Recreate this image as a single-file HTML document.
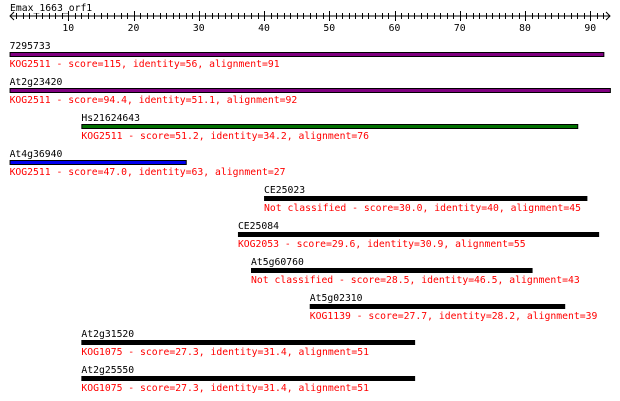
<!DOCTYPE html>
<html><head><meta charset="utf-8"><style>
body{margin:0;background:#fff}
svg{display:block}
text{font-family:"DejaVu Sans Mono","Liberation Mono",monospace;font-size:9.75px}
</style></head><body>
<svg id="c" width="620" height="401" xmlns="http://www.w3.org/2000/svg">
<text x="10" y="11" fill="#000">Emax_1663_orf1</text>
<g id="axis"></g>
<g id="rows"></g>
</svg>
<script>
const names=["7295733","At2g23420","Hs21624643","At4g36940","CE25023","CE25084","At5g60760","At5g02310","At2g31520","At2g25550"];
const starts=[1,1,12,1,40,36,38,47,12,12];
const ends=[92,93,88,28,89.4,91.2,81,86,63,63];
const descs=["KOG2511 - score=115, identity=56, alignment=91","KOG2511 - score=94.4, identity=51.1, alignment=92","KOG2511 - score=51.2, identity=34.2, alignment=76","KOG2511 - score=47.0, identity=63, alignment=27","Not classified - score=30.0, identity=40, alignment=45","KOG2053 - score=29.6, identity=30.9, alignment=55","Not classified - score=28.5, identity=46.5, alignment=43","KOG1139 - score=27.7, identity=28.2, alignment=39","KOG1075 - score=27.3, identity=31.4, alignment=51","KOG1075 - score=27.3, identity=31.4, alignment=51"];
const colors=["#800080","#800080","#007000","#0000ee","#000","#000","#000","#000","#000","#000"];
const tickLabels=[10,20,30,40,50,60,70,80,90];
const NS="http://www.w3.org/2000/svg";
function x(v){return 68.3+(v-10)*6.525;}
function mk(t,a,p){const e=document.createElementNS(NS,t);for(const k in a)e.setAttribute(k,a[k]);p.appendChild(e);return e;}
const ax=document.getElementById('axis');
const ay=16;
mk('line',{x1:10,y1:ay,x2:610,y2:ay,stroke:'#000'},ax);
mk('polyline',{points:`14,${ay-4} 10,${ay} 14,${ay+4}`,fill:'none',stroke:'#000'},ax);
mk('polyline',{points:`606,${ay-4} 610,${ay} 606,${ay+4}`,fill:'none',stroke:'#000'},ax);
for(let v=2;v<=92;v++){const big=v%10===0;const l=mk('line',{x1:Math.round(x(v))+0.5,x2:Math.round(x(v))+0.5,y1:big?ay-5:ay-3,y2:big?ay+5:ay+3,stroke:'#000'},ax);

}
tickLabels.forEach(v=>{const t=mk('text',{x:x(v),y:31,'text-anchor':'middle',fill:'#000'},ax);t.textContent=v;

});
const rows=document.getElementById('rows');
names.forEach((n,i)=>{const top=52+i*36;const g=mk('g',{},rows);


const t=mk('text',{x:x(starts[i]),y:top-3,fill:'#000'},g);t.textContent=n;


const r=mk('rect',{x:x(starts[i])+0.5,y:top+0.5,width:x(ends[i])-x(starts[i]),height:4,fill:colors[i],stroke:'#000'},g);


const d=mk('text',{x:x(starts[i]),y:top+15,fill:'#ff0000'},g);d.textContent=descs[i];

});
</script>
</body></html>
